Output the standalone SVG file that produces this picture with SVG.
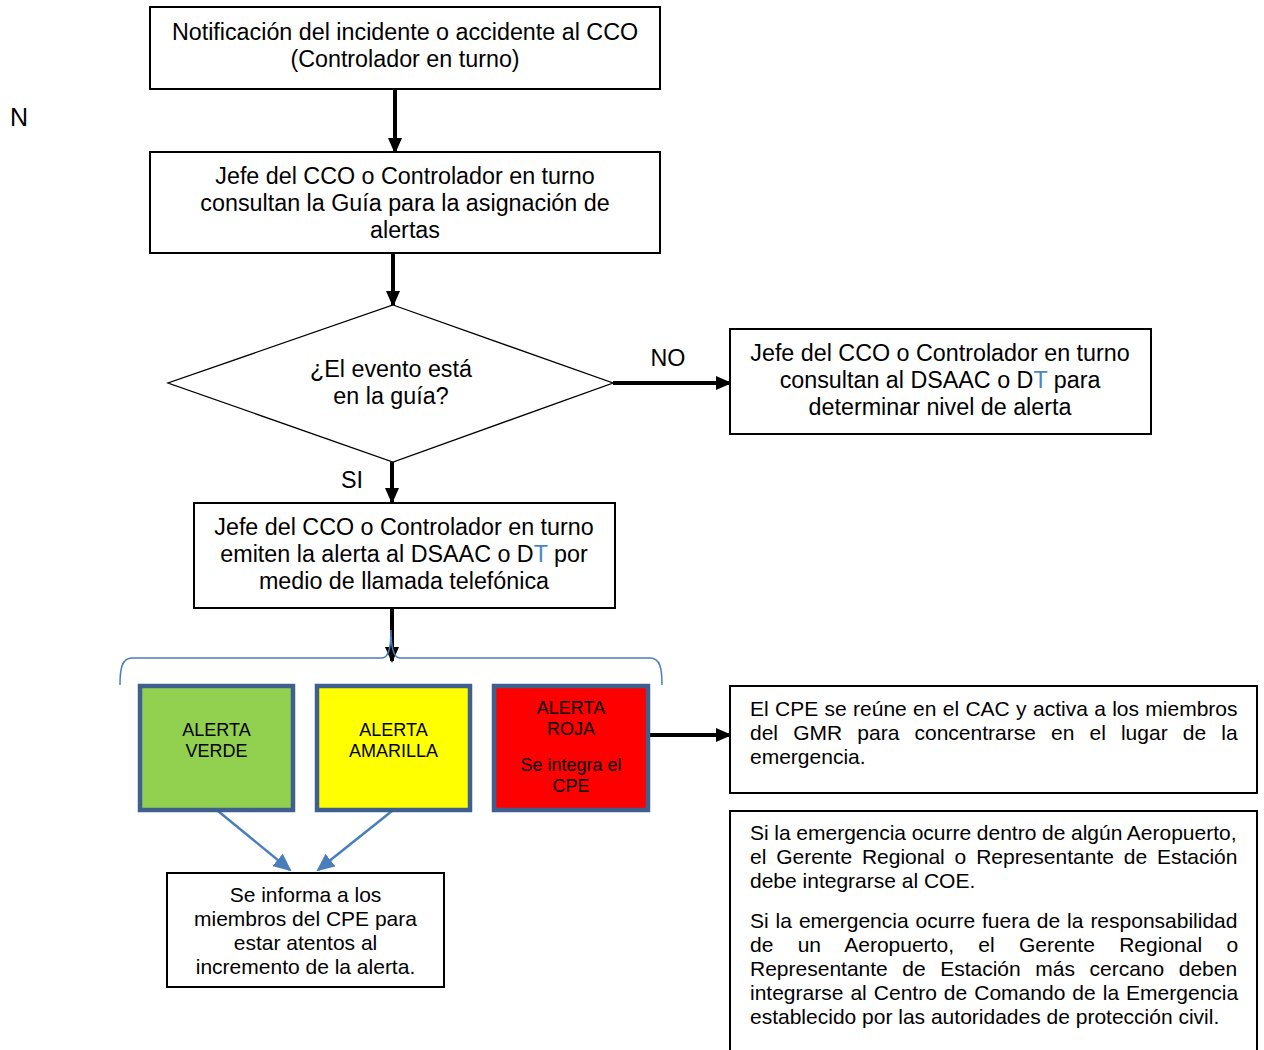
<svg xmlns="http://www.w3.org/2000/svg" width="1264" height="1050" viewBox="0 0 1264 1050">
<style>
text{font-family:"Liberation Sans",Arial,sans-serif;fill:#000}
.box{fill:#fff;stroke:#000;stroke-width:2}
.t23{font-size:23.3px;text-anchor:middle}
.t21{font-size:21px}
.tc21{font-size:21px;text-anchor:middle}
.t18{font-size:18px;text-anchor:middle}
.alert{stroke:#3f5f8f;stroke-width:4.5}
.conn{stroke:#000;stroke-width:4;fill:none}
.bconn{stroke:#4a7ebb;stroke-width:2.5;fill:none}
.blue{fill:#4a86c8}
</style>
<defs>
<marker id="ah" markerUnits="userSpaceOnUse" markerWidth="16" markerHeight="14" refX="14" refY="7" orient="auto"><path d="M0,0 L16,7 L0,14 Z" fill="#000"/></marker>
<marker id="bh" markerUnits="userSpaceOnUse" markerWidth="18" markerHeight="16" refX="16" refY="8" orient="auto"><path d="M0,0 L18,8 L0,16 Z" fill="#4a7ebb"/></marker>
</defs>
<rect width="1264" height="1050" fill="#fff"/>
<text x="10" y="126" style="font-size:25px">N</text>

<g id="connectors">
<line class="conn" x1="395" y1="89" x2="395" y2="152" marker-end="url(#ah)"/>
<line class="conn" x1="393" y1="253" x2="393" y2="305" marker-end="url(#ah)"/>
<line class="conn" x1="613" y1="383" x2="730" y2="383" marker-end="url(#ah)"/>
<line class="conn" x1="392" y1="462" x2="392" y2="502" marker-end="url(#ah)"/>
<line class="conn" x1="392" y1="608" x2="392" y2="661" marker-end="url(#ah)"/>
<line class="conn" x1="648" y1="735" x2="730" y2="735" marker-end="url(#ah)"/>
<line class="bconn" x1="218" y1="811" x2="290" y2="870" marker-end="url(#bh)"/>
<line class="bconn" x1="392" y1="811" x2="318" y2="870" marker-end="url(#bh)"/>
<text x="668" y="366" class="t23">NO</text>
<text x="352" y="488" class="t23">SI</text>
</g>

<g id="brace">
<path d="M120,685 C120,668 122,658 132,658 L382,658 C388,658 391,650 391,630 C391,650 394,658 400,658 L650,658 C660,658 662,668 662,685" fill="none" stroke="#4a7ebb" stroke-width="1.5"/>
</g>

<g id="n1">
<rect class="box" x="150" y="7" width="510" height="82"/>
<text class="t23" x="405" y="40">Notificación del incidente o accidente al CCO</text>
<text class="t23" x="405" y="67">(Controlador en turno)</text>
</g>

<g id="n2">
<rect class="box" x="150" y="152" width="510" height="101"/>
<text class="t23" x="405" y="184">Jefe del CCO o Controlador en turno</text>
<text class="t23" x="405" y="211">consultan la Guía para la asignación de</text>
<text class="t23" x="405" y="238">alertas</text>
</g>

<g id="n3">
<polygon points="393,305 613,383 393,462 168,383" fill="#fff" stroke="#000" stroke-width="1.3"/>
<text class="t23" x="391" y="377">¿El evento está</text>
<text class="t23" x="391" y="404">en la guía?</text>
</g>

<g id="n4">
<rect class="box" x="730" y="329" width="421" height="105"/>
<text class="t23" x="940" y="361">Jefe del CCO o Controlador en turno</text>
<text class="t23" x="940" y="388">consultan al DSAAC o D<tspan class="blue">T</tspan> para</text>
<text class="t23" x="940" y="415">determinar nivel de alerta</text>
</g>

<g id="n5">
<rect class="box" x="194" y="503" width="421" height="105"/>
<text class="t23" x="404" y="535">Jefe del CCO o Controlador en turno</text>
<text class="t23" x="404" y="562">emiten la alerta al DSAAC o D<tspan class="blue">T</tspan> por</text>
<text class="t23" x="404" y="589">medio de llamada telefónica</text>
</g>

<g id="n6">
<rect class="alert" x="140" y="686" width="153" height="124" fill="#92d050"/>
<text class="t18" x="216.5" y="736">ALERTA</text>
<text class="t18" x="216.5" y="757">VERDE</text>
</g>

<g id="n7">
<rect class="alert" x="317" y="686" width="153" height="124" fill="#ffff00"/>
<text class="t18" x="393.5" y="736">ALERTA</text>
<text class="t18" x="393.5" y="757">AMARILLA</text>
</g>

<g id="n8">
<rect class="alert" x="494" y="686" width="154" height="124" fill="#ff0000"/>
<text class="t18" x="571" y="714">ALERTA</text>
<text class="t18" x="571" y="735">ROJA</text>
<text class="t18" x="571" y="771">Se integra el</text>
<text class="t18" x="571" y="792">CPE</text>
</g>

<g id="n9">
<rect class="box" x="167" y="873" width="277" height="114"/>
<text class="tc21" x="305.5" y="902">Se informa a los</text>
<text class="tc21" x="305.5" y="926">miembros del CPE para</text>
<text class="tc21" x="305.5" y="950">estar atentos al</text>
<text class="tc21" x="305.5" y="974">incremento de la alerta.</text>
</g>

<g id="n10">
<rect class="box" x="730" y="686" width="527" height="107"/>
<text class="t21" x="750" y="716" word-spacing="0.5">El CPE se reúne en el CAC y activa a los miembros</text>
<text class="t21" x="750" y="740" word-spacing="9.3">del GMR para concentrarse en el lugar de la</text>
<text class="t21" x="750" y="764">emergencia.</text>
</g>

<g id="n11">
<rect class="box" x="730" y="811" width="527" height="250"/>
<text class="t21" x="750" y="840" word-spacing="-0.2">Si la emergencia ocurre dentro de algún Aeropuerto,</text>
<text class="t21" x="750" y="864" word-spacing="4.0">el Gerente Regional o Representante de Estación</text>
<text class="t21" x="750" y="888">debe integrarse al COE.</text>
<text class="t21" x="750" y="928" word-spacing="1.1">Si la emergencia ocurre fuera de la responsabilidad</text>
<text class="t21" x="750" y="952" word-spacing="18.5">de un Aeropuerto, el Gerente Regional o</text>
<text class="t21" x="750" y="976" word-spacing="8.7">Representante de Estación más cercano deben</text>
<text class="t21" x="750" y="1000" word-spacing="1.2">integrarse al Centro de Comando de la Emergencia</text>
<text class="t21" x="750" y="1024">establecido por las autoridades de protección civil.</text>
</g>
</svg>
